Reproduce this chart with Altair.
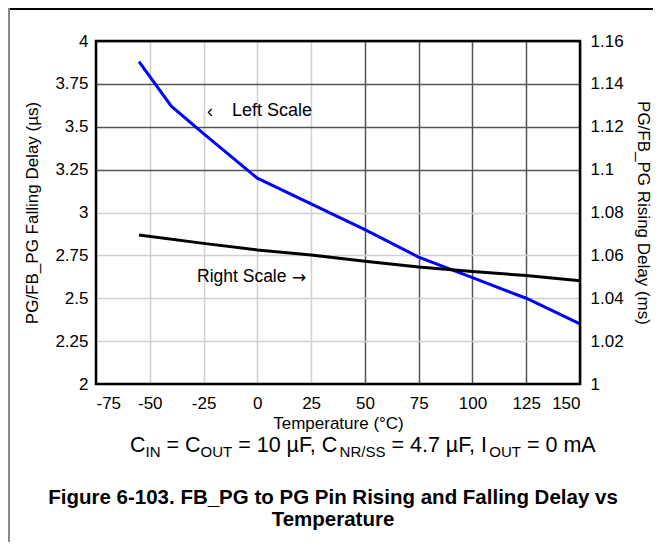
import altair as alt
import pandas as pd

# ---------------- data ----------------
temp_fall = [-55, -40, -25, 0, 25, 50, 75, 100, 125, 150]
falling_us = [3.88, 3.62, 3.46, 3.20, 3.05, 2.90, 2.74, 2.62, 2.50, 2.35]

temp_rise = [-55, -25, 0, 25, 50, 75, 100, 125, 150]
rising_ms = [1.0695, 1.0656, 1.0625, 1.0602, 1.0573, 1.0546, 1.0525, 1.0506, 1.0482]

x_ticks = [-75, -50, -25, 0, 25, 50, 75, 100, 125, 150]
left_ticks = [2, 2.25, 2.5, 2.75, 3, 3.25, 3.5, 3.75, 4]
right_ticks = [1, 1.02, 1.04, 1.06, 1.08, 1.1, 1.12, 1.14, 1.16]

FONT = "Liberation Sans"
W, H = 484, 343

df_fall = pd.DataFrame({"T": temp_fall, "v": falling_us})
df_rise = pd.DataFrame({"T": temp_rise, "v": rising_ms})

xscale = alt.Scale(domain=[-75, 150], nice=False, zero=False)

x_axis = alt.Axis(
    values=x_ticks, title="Temperature (°C)", labelFontSize=17, titleFontSize=17,
    titleFontWeight="normal", labelPadding=11, ticks=False, domain=False,
    grid=True, gridWidth=1.5,
    gridColor={"condition": {"test": "datum.value >= 50", "value": "#555555"}, "value": "#d0d0d0"},
    labelExpr="'' + datum.value", titleX=W / 2, titleY=39, titleBaseline="middle",
    titleAlign="center", labelColor="black", titleColor="black",
)

left_axis = alt.Axis(
    values=left_ticks, orient="left", title="PG/FB_PG Falling Delay (µs)",
    labelFontSize=17, titleFontSize=17, titleFontWeight="normal", labelPadding=8,
    ticks=False, domain=False, grid=True, gridWidth=1.5,
    gridColor={"condition": {"test": "datum.value >= 3.25", "value": "#555555"}, "value": "#d0d0d0"},
    labelExpr="'' + datum.value", titleX=-64, titleY=H / 2, titleAngle=-90,
    titleAlign="center", titleBaseline="middle", labelColor="black", titleColor="black",
)

right_axis = alt.Axis(
    values=right_ticks, orient="right", title="PG/FB_PG Rising Delay (ms)",
    labelFontSize=17, titleFontSize=17, titleFontWeight="normal", labelPadding=10,
    ticks=False, domain=False, grid=False,
    labelExpr="'' + datum.value", titleX=62, titleY=H / 2, titleAngle=90,
    titleAlign="center", titleBaseline="middle", labelColor="black", titleColor="black",
)

blue = alt.Chart(df_fall).mark_line(color="#0000ff", strokeWidth=3).encode(
    x=alt.X("T:Q", scale=xscale, axis=x_axis),
    y=alt.Y("v:Q", scale=alt.Scale(domain=[2, 4], nice=False, zero=False), axis=left_axis),
)

black = alt.Chart(df_rise).mark_line(color="black", strokeWidth=3).encode(
    x=alt.X("T:Q", scale=xscale, axis=x_axis),
    y=alt.Y("v:Q", scale=alt.Scale(domain=[1, 1.16], nice=False, zero=False), axis=right_axis),
)

frame = alt.Chart(pd.DataFrame({"a": [0]})).mark_rect(
    fill=None, stroke="black", strokeWidth=2.5
).encode(x=alt.value(0), x2=alt.value(W), y=alt.value(0), y2=alt.value(H))

one = pd.DataFrame({"a": [0]})

def txt(s, x, y, size, weight="normal", align="left", baseline="alphabetic", font=FONT):
    return alt.Chart(pd.DataFrame({"t": [s]})).mark_text(
        align=align, baseline=baseline, fontSize=size, fontWeight=weight,
        font=font, color="black"
    ).encode(text="t:N", x=alt.value(x), y=alt.value(y))

# Arial/Liberation Sans advance widths (per 1000 em)
AW = {"C": 722, "I": 278, "N": 722, "O": 778, "U": 722, "T": 611, " ": 278, "=": 584,
      "1": 556, "0": 556, "µ": 576, "F": 611, ",": 278, "R": 722, "/": 278, "S": 667,
      "4": 556, ".": 278, "7": 556, "m": 833, "A": 667}

def tw(s, size):
    return sum(AW.get(c, 556) for c in s) * size / 1000.0

OX, OY = 96, 41  # plot origin on the page
sub_parts = [("C", False), ("IN", True), (" = C", False), ("OUT", True),
             (" = 10 µF, C", False), ("NR/SS", True), (" = 4.7 µF, I", False),
             ("OUT", True), (" = 0 mA", False)]
MAIN, SUB = 21.5, 15
cx = 130 - OX
base_y = 452 - OY
sub_layers = []
for s, is_sub in sub_parts:
    size = SUB if is_sub else MAIN
    lead = len(s) - len(s.lstrip(" "))
    start = cx + tw(" " * lead, size)
    sub_layers.append(txt(s.lstrip(" "), start, base_y + (5 if is_sub else 0), size))
    cx += tw(s, size)

annot = [
    txt("‹", 210 - OX, 112 - OY, 18, align="center", baseline="middle"),
    txt("Left Scale", 232 - OX, 111 - OY, 18, baseline="middle"),
    txt("Right Scale", 197 - OX, 277 - OY, 17.5, baseline="middle"),
    txt("→", 292 - OX, 278 - OY, 17, baseline="middle", font="DejaVu Sans"),
    txt("Figure 6-103. FB_PG to PG Pin Rising and Falling Delay vs", 333 - OX, 504 - OY,
        20.5, weight="bold", align="center"),
    txt("Temperature", 333 - OX, 526 - OY, 20.5, weight="bold", align="center"),
]

border_top = alt.Chart(one).mark_rule(color="black", strokeWidth=2).encode(
    x=alt.value(-88), x2=alt.value(W + 73), y=alt.value(-32), y2=alt.value(-32))
border_left = alt.Chart(one).mark_rule(color="#888888", strokeWidth=2).encode(
    x=alt.value(-87), x2=alt.value(-87), y=alt.value(-33), y2=alt.value(H + 158))

chart = alt.layer(
    blue, black, frame, *annot, *sub_layers, border_top, border_left
).resolve_scale(y="independent").properties(
    width=W, height=H,
    autosize=alt.AutoSizeParams(type="none"),
    padding={"left": 88, "top": 33, "right": 73, "bottom": 158},
).configure_view(stroke=None).configure_axis(labelFont=FONT, titleFont=FONT).configure(
    background="white"
)

chart.save("out.html", embed_options={"renderer": "svg", "actions": False})
